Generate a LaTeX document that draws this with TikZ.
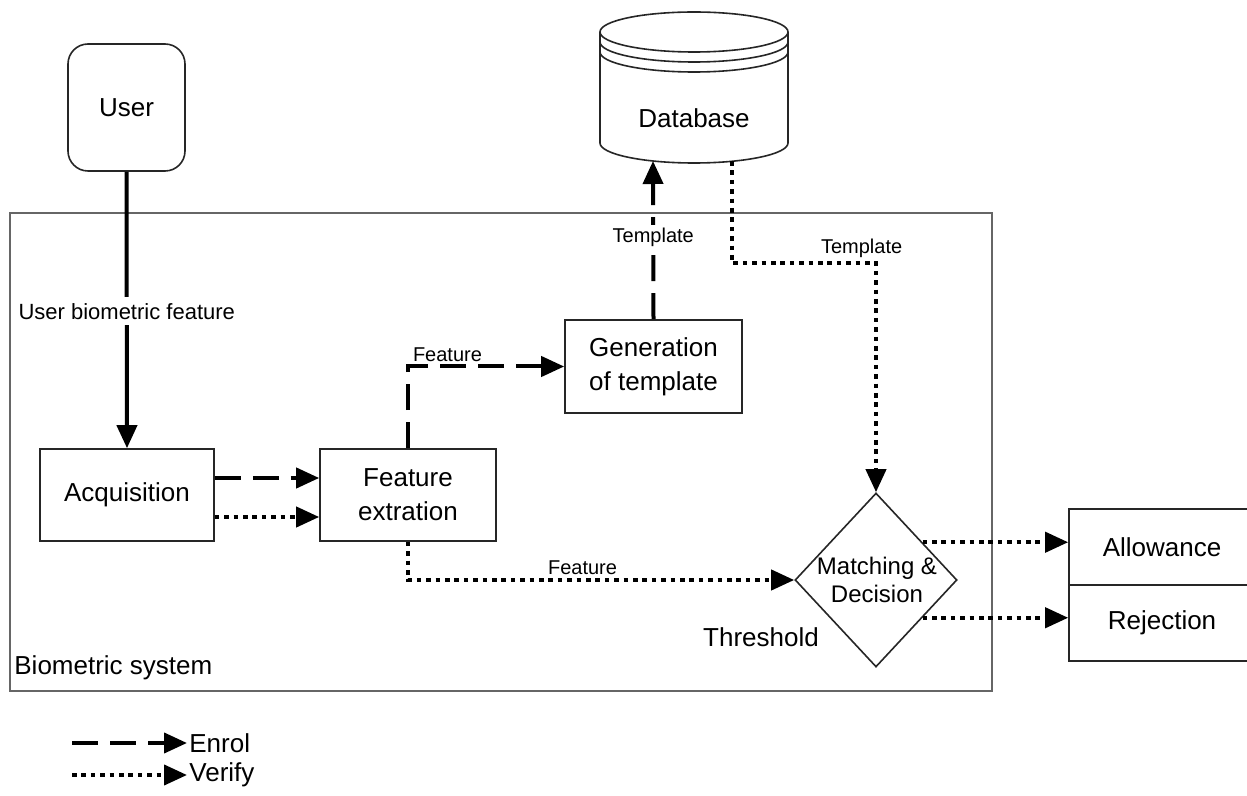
\documentclass[tikz,border=0pt]{standalone}
\usepackage{fontspec}
\setmainfont{Liberation Sans}
\usetikzlibrary{arrows.meta,shapes.geometric,calc}
\begin{document}
\begin{tikzpicture}[x=0.5pt,y=-0.5pt,
  every node/.style={font=\fontsize{13}{17}\selectfont, align=center, text=black},
  box/.style={draw=black!85, line width=0.8pt, inner sep=0pt},
  small/.style={font=\fontsize{10}{12}\selectfont, inner sep=1.5pt},
  tip/.style={-{Triangle[length=11.5pt,width=10pt]}},
  solidline/.style={line width=2pt, tip},
  enrolline/.style={line width=2pt, dash pattern=on 13pt off 6pt, tip},
  verifyline/.style={line width=2pt, dash pattern=on 2.3pt off 2.4pt, tip},
  dbline/.style={draw=black!85, line width=0.8pt}
]
\clip (0,0) rectangle (1247,796);
\fill[white] (0,0) rectangle (1247,796);

% biometric system frame
\draw[draw=black!60, line width=1pt] (10,213) rectangle (992,691);
\node[anchor=west, inner sep=0pt] (bs) at (14,668) {Biometric system};

% database cylinder
\draw[dbline, fill=white] (600,32) -- (600,143)
  .. controls (600,154) and (642,163) .. (694,163)
  .. controls (746,163) and (788,154) .. (788,143) -- (788,32);
\draw[dbline] (694,32) ellipse [x radius=47pt, y radius=10pt];
\draw[dbline] (600,42) .. controls (600,53) and (642,62) .. (694,62)
  .. controls (746,62) and (788,53) .. (788,42);
\draw[dbline] (600,52) .. controls (600,63) and (642,72) .. (694,72)
  .. controls (746,72) and (788,63) .. (788,52);
\node (db) at (694,118) {Database};
\coordinate (dbin) at (653,161);
\coordinate (dbout) at (732,161);

% nodes
\node[box, rounded corners=10pt, minimum width=58.5pt, minimum height=63.5pt] (user) at (126.5,107.5) {User};
\node[box, minimum width=87pt, minimum height=46pt] (acq) at (127,495) {Acquisition};
\node[box, minimum width=88pt, minimum height=46pt] (fe) at (408,495) {Feature\\extration};
\node[box, minimum width=88.5pt, minimum height=46.5pt] (gen) at (653.5,366.5) {Generation\\of template};
\node[box, diamond, minimum width=81pt, minimum height=87pt] (md) at (876,580) {};
\node[font=\fontsize{12}{14}\selectfont] (mdtext) at (877,580) {Matching \&\\Decision};
\node (thr) at (761,637) {Threshold};
\node[box, minimum width=93pt, minimum height=38pt] (allow) at (1162,547) {Allowance};
\node[box, minimum width=93pt, minimum height=38pt] (rej) at (1162,623) {Rejection};

% connectors
\draw[solidline] (user.south) -- node[pos=0.505, fill=white, inner sep=3pt, font=\fontsize{11}{13}\selectfont] {User biometric feature} (acq.north);
\draw[enrolline] ($(acq.east)+(0,-17)$) -- ($(fe.west)+(0,-17)$);
\draw[verifyline] ($(acq.east)+(0,22)$) -- ($(fe.west)+(0,22)$);
\draw[enrolline] (fe.north) |- node[pos=0.5, anchor=south west, small] {Feature} (gen.west);
\draw[enrolline] (gen.north) -- node[pos=0.52, fill=white, small] {Template} (dbin);
\draw[verifyline] (dbout) -- (dbout |- 0,263) -| node[pos=0.45, above, small] {Template} (md.north);
\draw[verifyline] (fe.south) |- node[pos=0.726, above, small] {Feature} (md.west);
\coordinate (o1) at ($(md.north)!0.57!(md.east)$);
\coordinate (o2) at ($(md.east)!0.43!(md.south)$);
\draw[verifyline] (o1) -- (o1 -| allow.west);
\draw[verifyline] (o2) -- (o2 -| rej.west);

% legend
\node[anchor=west, inner sep=1pt] (enrol) at (187,743) {Enrol};
\node[anchor=west, inner sep=1pt] (verify) at (187,775) {Verify};
\coordinate (le) at (72,743);
\coordinate (lv) at (72,775);
\draw[enrolline] (le) -- (enrol.west);
\draw[verifyline] (lv) -- (verify.west);
\end{tikzpicture}
\end{document}
